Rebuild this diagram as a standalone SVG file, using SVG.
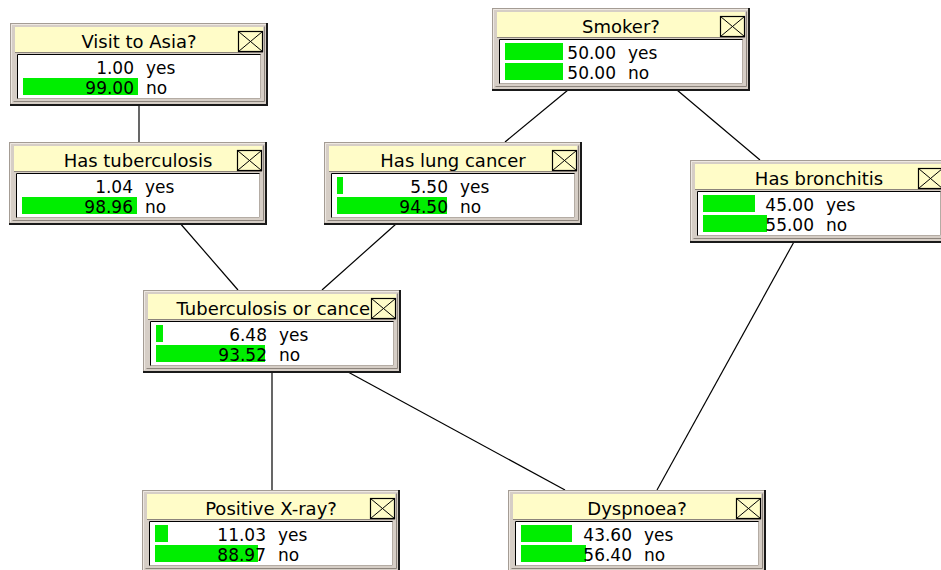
<svg xmlns="http://www.w3.org/2000/svg" xmlns:xlink="http://www.w3.org/1999/xlink" width="941" height="570" viewBox="0 0 941 570">
<style>
.edge{stroke:#000;stroke-width:1.2;fill:none}
.title{font-family:"DejaVu Sans",sans-serif;font-size:18px;fill:#000;text-anchor:middle}
.val{font-family:"DejaVu Sans",sans-serif;font-size:17px;fill:#000}
.num{text-anchor:end}
.bar{fill:#00ee00}
</style>
<defs>
<g id="frame">
<rect x="0.5" y="0.5" width="257" height="81" fill="#d6cec6" stroke="#a49c94"/>
<path d="M1.5 1.5H256M1.5 1.5V80" stroke="#eee8e2" stroke-width="1" fill="none"/>
<path d="M257 0V82H0" stroke="#1a1a1a" stroke-width="2" fill="none"/>
<path d="M254.5 3.5V78.5H3.5" stroke="#8c847c" stroke-width="1" fill="none"/>
<rect x="5" y="4" width="248" height="25" fill="#fffcc8"/>
<line x1="5" y1="29.5" x2="253" y2="29.5" stroke="#8c847c"/>
<rect x="7" y="31" width="244" height="45" fill="#fff"/>
<path d="M7.5 76V31.5H251" stroke="#000" stroke-width="1" fill="none"/>
<path d="M250.5 31.5V75.5H7.5" stroke="#b4aca4" stroke-width="1" fill="none"/>
<rect x="228.5" y="8.5" width="24" height="20" fill="none" stroke="#000" stroke-width="1.2"/>
<path d="M228.5 8.5L252.5 28.5M252.5 8.5L228.5 28.5" stroke="#000" stroke-width="1"/>
</g>
</defs>
<rect width="941" height="570" fill="#fff"/>
<g id="connectors">
<line class="edge" x1="139" y1="105" x2="139" y2="142"/>
<line class="edge" x1="568" y1="90" x2="505" y2="142"/>
<line class="edge" x1="677" y1="90" x2="760" y2="160"/>
<line class="edge" x1="179" y1="222" x2="238" y2="290"/>
<line class="edge" x1="396" y1="224" x2="322" y2="290"/>
<line class="edge" x1="272" y1="372" x2="272" y2="490"/>
<line class="edge" x1="348" y1="372" x2="565" y2="490"/>
<line class="edge" x1="795" y1="240" x2="657" y2="490"/>
</g>
<g id="visit" transform="translate(10,23)">
<use xlink:href="#frame"/>
<rect class="bar" x="13" y="55" width="115" height="17"/>
<text class="title" x="129" y="25">Visit to Asia?</text>
<text class="val num" x="124" y="51">1.00</text><text class="val" x="136" y="51">yes</text>
<text class="val num" x="124" y="71">99.00</text><text class="val" x="136" y="71">no</text>
</g>
<g id="smoker" transform="translate(492,8)">
<use xlink:href="#frame"/>
<rect class="bar" x="13" y="35" width="58" height="17"/>
<rect class="bar" x="13" y="55" width="58" height="17"/>
<text class="title" x="129" y="25">Smoker?</text>
<text class="val num" x="124" y="51">50.00</text><text class="val" x="136" y="51">yes</text>
<text class="val num" x="124" y="71">50.00</text><text class="val" x="136" y="71">no</text>
</g>
<g id="tuberculosis" transform="translate(9,142)">
<use xlink:href="#frame"/>
<rect class="bar" x="13" y="55" width="115" height="17"/>
<text class="title" x="129" y="25">Has tuberculosis</text>
<text class="val num" x="124" y="51">1.04</text><text class="val" x="136" y="51">yes</text>
<text class="val num" x="124" y="71">98.96</text><text class="val" x="136" y="71">no</text>
</g>
<g id="lungcancer" transform="translate(324,142)">
<use xlink:href="#frame"/>
<rect class="bar" x="13" y="35" width="6" height="17"/>
<rect class="bar" x="13" y="55" width="110" height="17"/>
<text class="title" x="129" y="25">Has lung cancer</text>
<text class="val num" x="124" y="51">5.50</text><text class="val" x="136" y="51">yes</text>
<text class="val num" x="124" y="71">94.50</text><text class="val" x="136" y="71">no</text>
</g>
<g id="bronchitis" transform="translate(690,160)">
<use xlink:href="#frame"/>
<rect class="bar" x="13" y="35" width="52" height="17"/>
<rect class="bar" x="13" y="55" width="64" height="17"/>
<text class="title" x="129" y="25">Has bronchitis</text>
<text class="val num" x="124" y="51">45.00</text><text class="val" x="136" y="51">yes</text>
<text class="val num" x="124" y="71">55.00</text><text class="val" x="136" y="71">no</text>
</g>
<g id="tborcancer" transform="translate(143,290)">
<use xlink:href="#frame"/>
<rect class="bar" x="13" y="35" width="7" height="17"/>
<rect class="bar" x="13" y="55" width="109" height="17"/>
<text class="title" x="227" y="25" style="text-anchor:end">Tuberculosis or cance</text>
<text class="val num" x="124" y="51">6.48</text><text class="val" x="136" y="51">yes</text>
<text class="val num" x="124" y="71">93.52</text><text class="val" x="136" y="71">no</text>
</g>
<g id="xray" transform="translate(142,490)">
<use xlink:href="#frame"/>
<rect class="bar" x="13" y="35" width="13" height="17"/>
<rect class="bar" x="13" y="55" width="103" height="17"/>
<text class="title" x="129" y="25">Positive X-ray?</text>
<text class="val num" x="124" y="51">11.03</text><text class="val" x="136" y="51">yes</text>
<text class="val num" x="124" y="71">88.97</text><text class="val" x="136" y="71">no</text>
</g>
<g id="dyspnoea" transform="translate(508,490)">
<use xlink:href="#frame"/>
<rect class="bar" x="13" y="35" width="51" height="17"/>
<rect class="bar" x="13" y="55" width="65" height="17"/>
<text class="title" x="129" y="25">Dyspnoea?</text>
<text class="val num" x="124" y="51">43.60</text><text class="val" x="136" y="51">yes</text>
<text class="val num" x="124" y="71">56.40</text><text class="val" x="136" y="71">no</text>
</g>
</svg>
